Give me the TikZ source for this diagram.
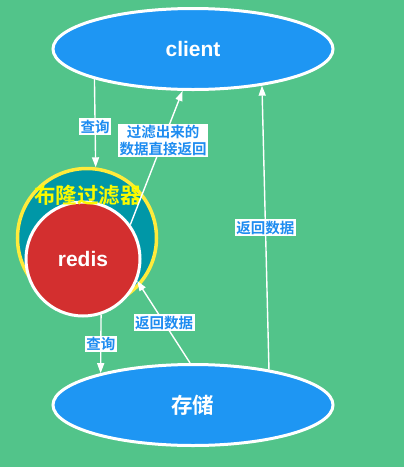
\documentclass[tikz,border=0pt]{standalone}
\usepackage{fontspec}
\setmainfont{Liberation Sans}
\newfontfamily\cjk{Noto Sans CJK SC}[BoldFont={Noto Sans CJK SC Bold}]
\usetikzlibrary{shapes.geometric,arrows.meta}
\definecolor{bggreen}{RGB}{82,196,138}
\definecolor{nodeblue}{RGB}{30,150,243}
\definecolor{bloomteal}{RGB}{0,151,167}
\definecolor{bloomyellow}{RGB}{255,235,59}
\definecolor{bloomtext}{RGB}{250,250,0}
\definecolor{redisred}{RGB}{211,47,47}
\definecolor{labelblue}{RGB}{30,140,240}
\begin{document}
\begin{tikzpicture}[x=1pt,y=-1pt,
 ell/.style={ellipse, draw=white, line width=3pt, fill=nodeblue, text=white,
   font=\bfseries\fontsize{21}{24}\selectfont, inner sep=0pt,
   minimum width=280pt, minimum height=81pt},
 arr/.style={draw=white, line width=1.4pt, -{Triangle[length=10pt,width=7pt]}},
 lbl/.style={fill=white, text=labelblue, font=\cjk\bfseries\fontsize{14.5}{17}\selectfont,
   inner sep=1.5pt, align=center},
]
\fill[white] (0,0) rectangle (405,467);
\fill[bggreen] (0,0) rectangle (403.5,467);
\useasboundingbox (0,0) rectangle (405,467);
\node[ell] (client) at (193,49) {client};
\node[ell, font=\cjk\bfseries\fontsize{21.5}{24}\selectfont] (store) at (193,405) {存储};
\node[circle, draw=bloomyellow, line width=3.5pt, fill=bloomteal, minimum size=139pt, inner sep=0pt] (bloom) at (87,238) {};
\node[circle, draw=white, line width=3pt, fill=redisred, minimum size=114pt, inner sep=0pt,
   text=white, font=\bfseries\fontsize{21}{24}\selectfont] (redis) at (83,259) {redis};
\node[text=bloomtext, font=\cjk\bfseries\fontsize{21.5}{24}\selectfont] (bloomtxt) at (88,195) {布隆过滤器};
\draw[arr] (client.197) -- node[lbl,pos=0.54]{查询} (bloom.83.5);
\draw[arr] (redis.36) -- node[lbl,pos=0.63]{过滤出来的\\数据直接返回} (client.256.4);
\draw[arr] (redis.288) -- node[lbl,pos=0.5]{查询} (store.161);
\draw[arr] (store.94) -- node[lbl,pos=0.49]{返回数据} (redis.338);
\draw[arr] (store.25) -- node[lbl,pos=0.5]{返回数据} (client.332.2);
\end{tikzpicture}
\end{document}
